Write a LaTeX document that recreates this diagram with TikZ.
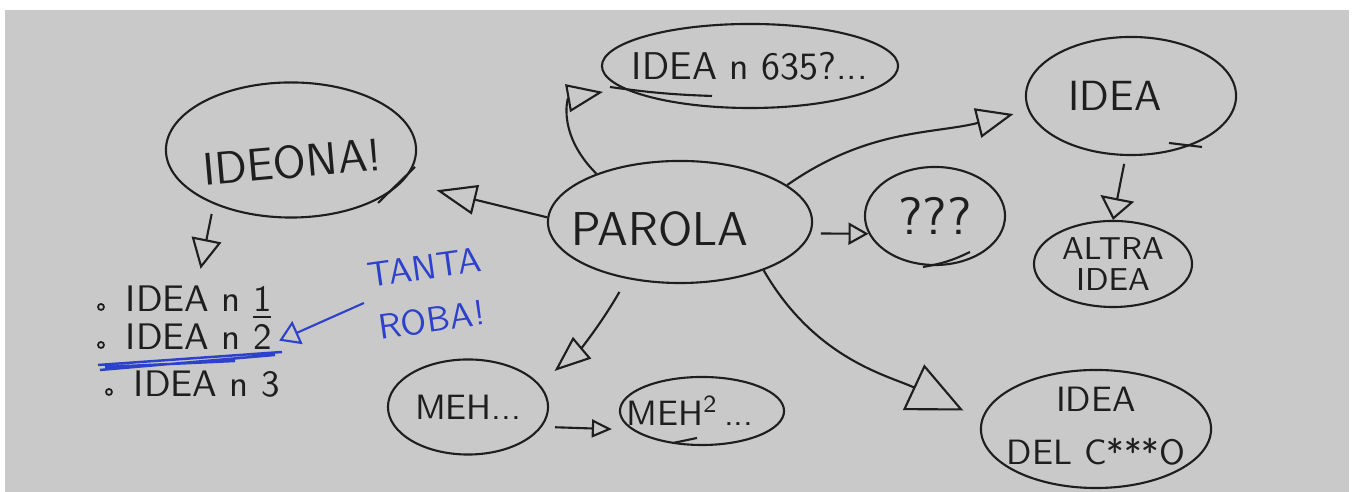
\documentclass[tikz,border=0pt]{standalone}
\usepackage{graphicx}
\usetikzlibrary{shapes.geometric,arrows.meta}
\definecolor{board}{RGB}{201,201,201}
\definecolor{ink}{RGB}{30,30,30}
\definecolor{bluepen}{RGB}{45,65,205}
\tikzset{
  blob/.style={draw=ink, ellipse, line width=0.6pt, inner sep=0pt},
  hand/.style={font=\sffamily\fontsize{#1}{#1}\selectfont, text=ink, inner sep=2pt, align=center},
  hand/.default=10.5,
  link/.style={draw=ink, line width=0.6pt, -{Triangle[open, length=0.36cm, width=0.28cm]}},
  scrib/.style={draw=ink, line width=0.6pt},
  dot/.style={circle, draw=ink, line width=0.5pt, inner sep=0pt, minimum size=0.06cm}
}
\begin{document}
\begin{tikzpicture}[x=0.01cm, y=0.01cm]
	\fill[white] (0,0) rectangle (1357,492);
	\fill[board] (5,0) rectangle (1349,482);
	\useasboundingbox (0,0) rectangle (1357,492);

	% the word and its ideas
	\node[blob, minimum width=2.64cm, minimum height=1.22cm, label={[hand=13.5, xshift=-0.2cm, yshift=-0.07cm]center:PAROLA}] (parola) at (680,270) {};
	\node[blob, minimum width=2.96cm, minimum height=0.84cm, label={[hand=11]center:IDEA n 635?...}] (n635) at (750,426) {};
	\node[blob, minimum width=2.10cm, minimum height=1.18cm, label={[hand=12, xshift=-0.16cm]center:IDEA}] (idea) at (1131,396) {};
	\node[blob, minimum width=2.50cm, minimum height=1.35cm, label={[hand=13, rotate=5, yshift=-0.12cm]center:IDEONA!}] (ideona) at (291,342) {};
	\node[blob, minimum width=1.40cm, minimum height=0.98cm, label={[hand=15]center:???}] (qqq) at (935,276) {};
	\node[blob, minimum width=1.58cm, minimum height=0.86cm, label={[hand=9]center:ALTRA\\IDEA}] (altra) at (1113,228) {};
	\node[blob, minimum width=1.60cm, minimum height=0.95cm, label={[hand=10]center:MEH...}] (meh) at (468,85) {};
	\node[blob, minimum width=1.64cm, minimum height=0.68cm, label={[hand=10, xshift=-0.12cm]center:MEH\textsuperscript{2}\,...}] (meh2) at (702,81) {};
	\node[blob, minimum width=2.30cm, minimum height=1.18cm, label={[hand=10, yshift=0.03cm]center:IDEA\\[5pt]DEL C***O}] (delc) at (1096,63) {};

	% overshooting pen strokes
	\draw[scrib] (610,405) to[bend right=3] (712,396);
	\draw[scrib] (1169,349) -- (1202,345);
	\draw[scrib] (923,225) to[bend right=8] (970,240);
	\draw[scrib] (378,289) -- (415,325);
	\draw[scrib] (673,49) -- (697,54);

	% list
	\node[hand, anchor=base west] (item1) at (118,180) {IDEA n \underline{1}};
	\node[hand, anchor=base west] (item2) at (118,142) {IDEA n \underline{2}};
	\node[hand, anchor=base west] (item3) at (126,95) {IDEA n 3};
	\foreach \k in {1,2,3}
		\node[dot] (b\k) at ([xshift=-0.17cm, yshift=0.05cm]item\k.base west) {};

	\node[hand=10, text=bluepen, rotate=8] (tanta) at (428,198) {TANTA\\[5pt]ROBA!};
	\draw[bluepen, line width=0.7pt] (98,127) -- (282,140) (100,122) -- (275,137) (105,125) -- (235,131);
	\draw[bluepen, line width=0.6pt, -{Triangle[open, length=0.2cm, width=0.25cm]}] (tanta.west) -- (item2.east);

	% arrows
	\draw[link, shorten >=0.35cm, -{Triangle[open, length=0.4cm, width=0.3cm]}] (parola.178) -- (ideona.-16);
	\draw[link, shorten >=0.2cm] (parola.150) to[out=135, in=190, looseness=1.6] (n635.190);
	\draw[link, shorten >=0.15cm, -{Triangle[open, length=0.37cm, width=0.3cm]}] (parola.19) to[out=35, in=194] (idea.188);
	\draw[link, shorten <=0.1cm, -{Triangle[open, length=0.2cm, width=0.22cm]}] (parola.-5) -- (qqq.195);
	\draw[link, shorten <=0.08cm, -{Triangle[open, length=0.22cm, width=0.34cm]}] (idea.265) -- (altra.north);
	\draw[link, shorten <=0.15cm, shorten >=0.2cm] (parola.227) to[bend left=10] (meh.18);
	\draw[link, shorten >=0.2cm, -{Triangle[open, length=0.55cm, width=0.5cm]}] (parola.-30) to[out=-60, in=155] (delc.175);
	\draw[link, shorten <=0.13cm, shorten >=0.2cm, -{Triangle[open, length=0.2cm, width=0.18cm]}] (meh.-15) -- (meh2.195);
	\draw[link, shorten <=0.1cm, shorten >=0.1cm, -{Triangle[open, length=0.3cm, width=0.3cm]}] (ideona.-145) -- (item1.north);
\end{tikzpicture}
\end{document}
